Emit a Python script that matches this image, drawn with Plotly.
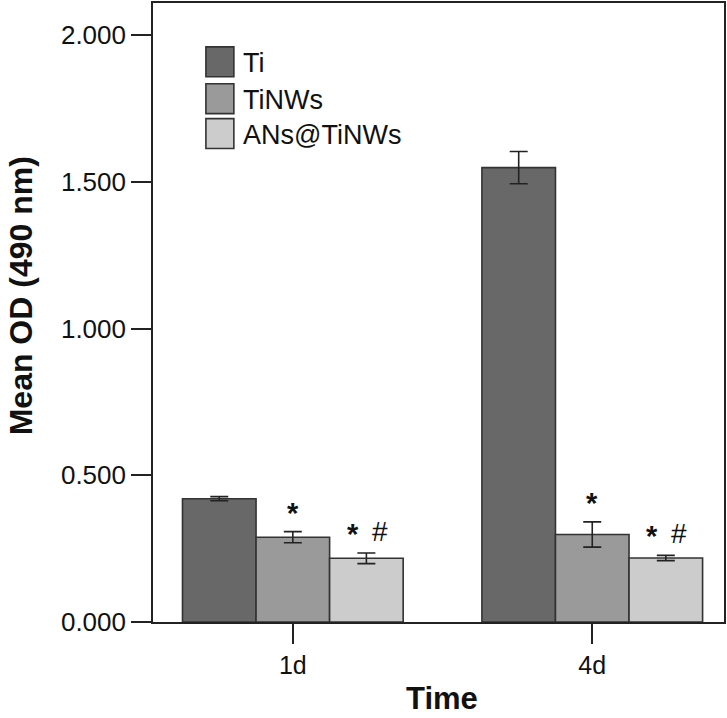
import plotly.graph_objects as go

# ---- data ----
categories = ["1d", "4d"]
series_names = ["Ti", "TiNWs", "ANs@TiNWs"]
ti_mean = [0.420, 1.548]
ti_err = [0.007, 0.055]
tinws_mean = [0.289, 0.298]
tinws_err = [0.019, 0.043]
ans_mean = [0.217, 0.218]
ans_err = [0.018, 0.009]
y_ticks = [0.0, 0.5, 1.0, 1.5, 2.0]
# significance marks: (series index, category index, symbol)
sig_marks = [(1, 0, "*"), (2, 0, "*"), (2, 0, "#"), (1, 1, "*"), (2, 1, "*"), (2, 1, "#")]

colors = ["#686868", "#9a9a9a", "#cccccc"]
means = [ti_mean, tinws_mean, ans_mean]
errs = [ti_err, tinws_err, ans_err]

FONT = "Liberation Sans, Arial, sans-serif"
W, H = 727, 718
ML, MR, MT, MB = 153, 2, 1, 96
PW, PH = W - ML - MR, H - MT - MB

def px_x(p):
    return (p - ML) / PW

def px_y(p):
    return (H - MB - p) / PH

fig = go.Figure()
for name, col, m, e in zip(series_names, colors, means, errs):
    fig.add_trace(go.Bar(
        name=name, x=categories, y=m,
        marker=dict(color=col, line=dict(color="#333333", width=1.6)),
        error_y=dict(type="data", array=e, visible=True, color="#222222", thickness=1.6, width=9),
        showlegend=False,
    ))

bargap = 0.263
bar_w = (1 - bargap) / 3
annotations = []
# significance annotations
sym_offset = {"*": -0.045, "#": 0.045}
for si, ci, sym in sig_marks:
    top = means[si][ci] + errs[si][ci]
    xc = ci + (si - 1) * bar_w
    if si == 2:
        xc += sym_offset[sym]
    annotations.append(dict(
        x=xc, y=top, xref="x", yref="y",
        text="<b>*</b>" if sym == "*" else sym, showarrow=False,
        yanchor="bottom", yshift=4 if sym == "#" else 1,
        font=dict(family=FONT, size=29 if sym == "*" else 28, color="#111111"),
    ))

# manual legend
box_x0, box_x1 = 206, 234
box_rows = [(45, 75), (82, 112), (117, 147)]
shapes = []
for (y0, y1), col, name in zip(box_rows, colors, series_names):
    shapes.append(dict(type="rect", xref="paper", yref="paper",
                       x0=px_x(box_x0), x1=px_x(box_x1), y0=px_y(y1), y1=px_y(y0),
                       fillcolor=col, line=dict(color="#333333", width=1.6)))
    annotations.append(dict(x=px_x(241), y=px_y((y0 + y1) / 2 + 1), xref="paper", yref="paper",
                            text=name, showarrow=False, xanchor="left", yanchor="middle",
                            font=dict(family=FONT, size=27, color="#111111")))

# axis titles
annotations.append(dict(x=px_x(443), y=px_y(679), xref="paper", yref="paper", text="<b>Time</b>",
                        showarrow=False, xanchor="center", yanchor="top",
                        font=dict(family=FONT, size=31, color="#111111")))
annotations.append(dict(x=px_x(1), y=px_y(295), xref="paper", yref="paper",
                        text="<b>Mean OD (490 nm)</b>", textangle=-90,
                        showarrow=False, xanchor="left", yanchor="middle",
                        font=dict(family=FONT, size=32, color="#111111")))

fig.update_layout(
    width=W, height=H,
    margin=dict(l=ML, r=MR, t=MT, b=MB),
    paper_bgcolor="white", plot_bgcolor="white",
    barmode="group", bargap=bargap, bargroupgap=0,
    shapes=shapes, annotations=annotations,
    font=dict(family=FONT, color="#111111"),
)
fig.update_xaxes(
    type="category", range=[-0.467, 1.44],
    showline=True, mirror=True, linecolor="#222222", linewidth=1.6,
    ticks="outside", ticklen=20, tickwidth=1.6, tickcolor="#222222",
    tickfont=dict(family=FONT, size=25, color="#111111"),
    showgrid=False, zeroline=False,
)
fig.update_yaxes(
    range=[0, 2.109], tickvals=y_ticks, tickformat=".3f",
    showline=True, mirror=True, linecolor="#222222", linewidth=1.6,
    ticks="outside", ticklen=20, tickwidth=1.6, tickcolor="#222222",
    tickfont=dict(family=FONT, size=26, color="#111111"),
    showgrid=False, zeroline=False,
)

fig.write_html("out.html", config={"displayModeBar": False},
               post_script="document.body.style.margin='0px';document.body.style.overflow='hidden';")
